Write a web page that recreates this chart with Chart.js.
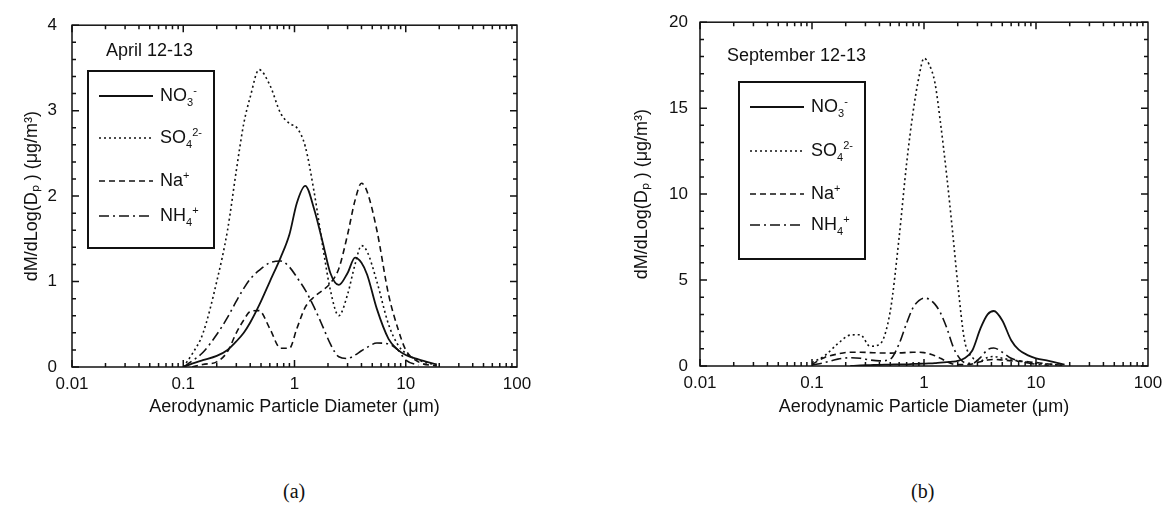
<!DOCTYPE html>
<html lang="en">
<head>
  <meta charset="UTF-8">
  <title>Particle size distributions</title>
  <script src="https://cdn.jsdelivr.net/npm/chart.js"></script>
  <style>
    body { margin: 0; background: #fff; width: 1173px; height: 511px; position: relative; overflow: hidden;
           font-family: "Liberation Sans", Arial, sans-serif; color: #111; }
    .wrap { position: absolute; top: 0; height: 430px; }
    #wrapA { left: 0; width: 580px; }
    #wrapB { left: 590px; width: 583px; }
    .note { position: absolute; font-size: 18px; white-space: nowrap; }
    .legend { position: absolute; border: 2px solid #111; width: 124px; height: 175px; background: #fff; }
    .row { position: absolute; left: 10px; height: 30px; }
    .row svg { position: absolute; left: 0; top: 8px; }
    .row span { position: absolute; left: 61px; top: -2px; font-size: 18px; white-space: nowrap; }
    .row sub, .row sup { font-size: 11px; }
    .caption { position: absolute; top: 480px; font-family: "Liberation Serif", serif; font-size: 20px; }
  </style>
</head>
<body>
  <div class="wrap" id="wrapA"><canvas id="chartA"></canvas></div>
  <div class="wrap" id="wrapB"><canvas id="chartB"></canvas></div>

  <div class="note" style="left:106px; top:40px;">April 12-13</div>
  <div class="legend" style="left:87px; top:70px;">
    <div class="row" style="top:14px;"><svg width="56" height="4"><line x1="0" y1="2" x2="54" y2="2" stroke="#111" stroke-width="1.8"/></svg><span>NO<sub>3</sub><sup>-</sup></span></div>
    <div class="row" style="top:56px;"><svg width="56" height="4"><line x1="0" y1="2" x2="54" y2="2" stroke="#111" stroke-width="1.6" stroke-dasharray="2 3"/></svg><span>SO<sub>4</sub><sup>2-</sup></span></div>
    <div class="row" style="top:99px;"><svg width="56" height="4"><line x1="0" y1="2" x2="54" y2="2" stroke="#111" stroke-width="1.6" stroke-dasharray="6 4"/></svg><span>Na<sup>+</sup></span></div>
    <div class="row" style="top:134px;"><svg width="56" height="4"><line x1="0" y1="2" x2="54" y2="2" stroke="#111" stroke-width="1.6" stroke-dasharray="10 4 2 4"/></svg><span>NH<sub>4</sub><sup>+</sup></span></div>
  </div>

  <div class="note" style="left:727px; top:45px;">September 12-13</div>
  <div class="legend" style="left:738px; top:81px;">
    <div class="row" style="top:14px;"><svg width="56" height="4"><line x1="0" y1="2" x2="54" y2="2" stroke="#111" stroke-width="1.8"/></svg><span>NO<sub>3</sub><sup>-</sup></span></div>
    <div class="row" style="top:58px;"><svg width="56" height="4"><line x1="0" y1="2" x2="54" y2="2" stroke="#111" stroke-width="1.6" stroke-dasharray="2 3"/></svg><span>SO<sub>4</sub><sup>2-</sup></span></div>
    <div class="row" style="top:101px;"><svg width="56" height="4"><line x1="0" y1="2" x2="54" y2="2" stroke="#111" stroke-width="1.6" stroke-dasharray="6 4"/></svg><span>Na<sup>+</sup></span></div>
    <div class="row" style="top:132px;"><svg width="56" height="4"><line x1="0" y1="2" x2="54" y2="2" stroke="#111" stroke-width="1.6" stroke-dasharray="10 4 2 4"/></svg><span>NH<sub>4</sub><sup>+</sup></span></div>
  </div>

  <div class="caption" style="left:283px;">(a)</div>
  <div class="caption" style="left:911px;">(b)</div>

  <script>
// x tick labels (decades only)
const xTickLabels = ['0.01', '0.1', '1', '10', '100'];
const yTitle = 'dM/dLog(D\u209A ) (\u03BCg/m\u00B3)';
const xTitle = 'Aerodynamic Particle Diameter (\u03BCm)';

// April 12-13 (panel a)
const aprDiam = [0.1, 0.12, 0.15, 0.2, 0.25, 0.3, 0.35, 0.4, 0.48, 0.6, 0.75, 0.9, 1.05, 1.25, 1.5, 1.8, 2.1, 2.5, 3, 3.5, 4, 4.5, 5.5, 7, 8.5, 10, 13, 19];
const aprNO3 = [0, 0.04, 0.08, 0.13, 0.2, 0.3, 0.4, 0.52, 0.72, 1.0, 1.28, 1.55, 1.92, 2.12, 1.85, 1.45, 1.1, 0.96, 1.1, 1.28, 1.22, 1.08, 0.68, 0.33, 0.2, 0.14, 0.09, 0.03];
const aprSO4 = [0, 0.15, 0.39, 1.0, 1.6, 2.3, 2.85, 3.16, 3.48, 3.3, 2.97, 2.85, 2.8, 2.58, 2.05, 1.4, 0.9, 0.6, 0.85, 1.2, 1.42, 1.35, 1.0, 0.5, 0.26, 0.16, 0.08, 0.02];
const aprNa = [null, 0, 0.03, 0.06, 0.18, 0.4, 0.55, 0.65, 0.66, 0.45, 0.22, 0.22, 0.45, 0.7, 0.82, 0.9, 0.98, 1.15, 1.55, 1.95, 2.15, 2.05, 1.6, 0.85, 0.45, 0.2, 0.06, 0.01];
const aprNH4 = [0, 0.07, 0.17, 0.38, 0.58, 0.77, 0.92, 1.03, 1.13, 1.22, 1.24, 1.17, 1.05, 0.9, 0.7, 0.47, 0.27, 0.12, 0.1, 0.14, 0.19, 0.23, 0.28, 0.27, 0.2, 0.08, 0.02, null];

// September 12-13 (panel b)
const sepDiam = [0.1, 0.13, 0.17, 0.22, 0.27, 0.33, 0.4, 0.5, 0.6, 0.7, 0.8, 0.9, 1, 1.1, 1.25, 1.4, 1.6, 1.8, 2, 2.3, 2.7, 3.2, 3.7, 4.2, 5, 6, 7, 8.5, 10, 13, 18];
const sepNO3 = [null, null, null, 0, 0.03, 0.05, 0.07, 0.08, 0.1, 0.1, 0.12, 0.13, 0.14, 0.15, 0.17, 0.2, 0.22, 0.25, 0.3, 0.45, 0.9, 2.2, 3.0, 3.2, 2.65, 1.5, 0.95, 0.62, 0.45, 0.3, 0.08];
const sepSO4 = [0.2, 0.6, 1.3, 1.8, 1.82, 1.15, 1.25, 3.2, 7.5, 11.8, 14.8, 16.8, 17.9, 17.6, 16.5, 14.2, 11.0, 7.8, 4.8, 1.5, 0.5, 0.3, 0.5, 0.55, 0.45, 0.35, 0.3, 0.2, 0.15, 0.1, 0.03];
const sepNa = [0.1, 0.5, 0.7, 0.8, 0.8, 0.78, 0.76, 0.75, 0.76, 0.78, 0.8, 0.8, 0.78, 0.72, 0.6, 0.45, 0.25, 0.12, 0.08, 0.08, 0.12, 0.25, 0.35, 0.38, 0.35, 0.3, 0.28, 0.25, 0.2, 0.12, 0.03];
const sepNH4 = [0.05, 0.2, 0.4, 0.48, 0.45, 0.35, 0.3, 0.4, 1.3, 2.5, 3.4, 3.8, 3.95, 3.9, 3.6, 3.1, 2.2, 1.2, 0.6, 0.2, 0.15, 0.5, 0.95, 1.05, 0.8, 0.45, 0.3, 0.18, 0.1, 0.04, null];

const ink = '#111';
const styles = [
  { label: 'NO3-', dash: [], width: 1.8 },
  { label: 'SO4 2-', dash: [2, 3], width: 1.6 },
  { label: 'Na+', dash: [6, 4], width: 1.6 },
  { label: 'NH4+', dash: [10, 4, 2, 4], width: 1.6 }
];

function pts(diam, vals) {
  return diam.map((d, i) => ({ x: d, y: vals[i] })).filter(p => p.y !== null);
}

// box + inward ticks on all four sides, placed with the chart's own scales
const frameTicks = {
  id: 'frameTicks',
  afterDraw(chart, args, opts) {
    const { ctx, chartArea: a, scales } = chart;
    const xs = scales.x, ys = scales.y;
    ctx.save();
    ctx.strokeStyle = ink;
    ctx.lineWidth = 1.5;
    ctx.strokeRect(a.left, a.top, a.right - a.left, a.bottom - a.top);
    ctx.beginPath();
    for (let e = -2; e < 2; e++) {
      for (let m = 1; m <= 9; m++) {
        const px = xs.getPixelForValue(m * Math.pow(10, e));
        const len = m === 1 ? 7 : 4;
        ctx.moveTo(px, a.bottom); ctx.lineTo(px, a.bottom - len);
        ctx.moveTo(px, a.top); ctx.lineTo(px, a.top + len);
      }
    }
    for (let v = 0; v <= opts.max + 1e-9; v += opts.minor) {
      const py = ys.getPixelForValue(v);
      const major = Math.abs(v / opts.major - Math.round(v / opts.major)) < 1e-6;
      const len = major ? 7 : 4;
      ctx.moveTo(a.left, py); ctx.lineTo(a.left + len, py);
      ctx.moveTo(a.right, py); ctx.lineTo(a.right - len, py);
    }
    ctx.stroke();
    ctx.restore();
  }
};

function makeChart(id, diam, series, yMax, yStep, yMinor, yWidth, yTitlePad, yTickPad, xHeight, padTop, padRight) {
  const datasets = series.map((vals, i) => ({
    label: styles[i].label,
    data: pts(diam, vals),
    borderColor: ink,
    borderWidth: styles[i].width,
    borderDash: styles[i].dash,
    pointRadius: 0,
    fill: false,
    cubicInterpolationMode: 'monotone'
  }));
  return new Chart(document.getElementById(id), {
    type: 'line',
    data: { datasets },
    plugins: [frameTicks],
    options: {
      responsive: true,
      maintainAspectRatio: false,
      animation: false,
      layout: { padding: { top: padTop, right: padRight, left: 0, bottom: 0 } },
      plugins: {
        legend: { display: false },
        tooltip: { enabled: false },
        frameTicks: { max: yMax, major: yStep, minor: yMinor }
      },
      scales: {
        x: {
          type: 'logarithmic',
          min: 0.01,
          max: 100,
          grid: { display: false, drawTicks: false },
          border: { display: false },
          ticks: {
            autoSkip: false,
            maxRotation: 0,
            padding: 7,
            color: ink,
            font: { family: 'Liberation Sans', size: 17 },
            callback: (v) => {
              const l = Math.log10(v);
              return Math.abs(l - Math.round(l)) < 1e-6 ? xTickLabels[Math.round(l) + 2] : '';
            }
          },
          title: { display: true, text: xTitle, color: ink, font: { family: 'Liberation Sans', size: 18 }, padding: { top: 0, bottom: 12 } },
          afterFit: (s) => { s.height = xHeight; }
        },
        y: {
          min: 0,
          max: yMax,
          grid: { display: false, drawTicks: false },
          border: { display: false },
          ticks: { stepSize: yStep, padding: yTickPad, color: ink, font: { family: 'Liberation Sans', size: 17 } },
          title: { display: true, text: yTitle, color: ink, font: { family: 'Liberation Sans', size: 18 }, padding: { top: yTitlePad, bottom: 0 } },
          afterFit: (s) => { s.width = yWidth; }
        }
      }
    }
  });
}

makeChart('chartA', aprDiam, [aprNO3, aprSO4, aprNa, aprNH4], 4, 1, 0.2, 72, 21, 15, 63, 20, 63);
makeChart('chartB', sepDiam, [sepNO3, sepSO4, sepNa, sepNH4], 20, 5, 1, 110, 41, 12, 64, 18, 25);
  </script>
</body>
</html>
